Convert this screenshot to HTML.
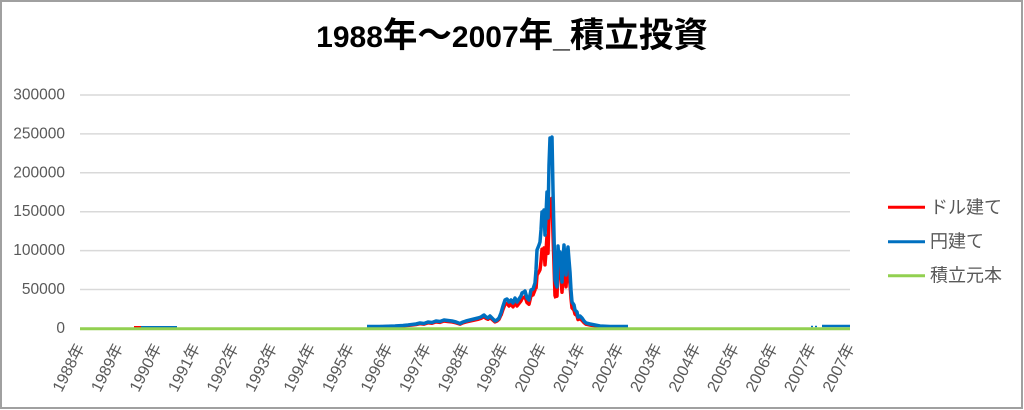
<!DOCTYPE html>
<html>
<head>
<meta charset="utf-8">
<style>
  html, body { margin:0; padding:0; background:#fff; }
  svg { display:block; }
  text { font-family: "Liberation Sans", "Noto Sans CJK JP", sans-serif; }
</style>
</head>
<body>
<svg width="1024" height="410" viewBox="0 0 1024 410" xmlns="http://www.w3.org/2000/svg">
  <rect x="0" y="0" width="1024" height="410" fill="#fff"/>
  <rect x="1" y="1" width="1021" height="407" fill="none" stroke="#a0a0a0" stroke-width="2"/>

  <!-- Title -->
  <text x="512" y="47" text-anchor="middle" font-weight="bold" font-size="30" fill="#000">1988<tspan font-size="34.5">年～</tspan>2007<tspan font-size="34.5">年</tspan>_<tspan font-size="34.5">積立投資</tspan></text>

  <!-- Gridlines -->
  <g stroke="#d9d9d9" stroke-width="1.5">
    <line x1="80" y1="95" x2="850" y2="95"/>
    <line x1="80" y1="133.9" x2="850" y2="133.9"/>
    <line x1="80" y1="172.8" x2="850" y2="172.8"/>
    <line x1="80" y1="211.7" x2="850" y2="211.7"/>
    <line x1="80" y1="250.6" x2="850" y2="250.6"/>
    <line x1="80" y1="289.5" x2="850" y2="289.5"/>
    <line x1="80" y1="328.5" x2="850" y2="328.5"/>
  </g>

  <!-- Y labels -->
  <g font-size="15.5" fill="#595959" text-anchor="end" dominant-baseline="central">
    <text x="65" y="95">300000</text>
    <text x="65" y="133.9">250000</text>
    <text x="65" y="172.8">200000</text>
    <text x="65" y="211.7">150000</text>
    <text x="65" y="250.6">100000</text>
    <text x="65" y="289.5">50000</text>
    <text x="65" y="328.5">0</text>
  </g>

  <!-- X labels -->
  <g font-size="16" fill="#595959" text-anchor="end" dominant-baseline="central">
    <text transform="translate(81,345) rotate(-63)">1988年</text>
    <text transform="translate(119.5,345) rotate(-63)">1989年</text>
    <text transform="translate(158,345) rotate(-63)">1990年</text>
    <text transform="translate(196.5,345) rotate(-63)">1991年</text>
    <text transform="translate(235,345) rotate(-63)">1992年</text>
    <text transform="translate(273.5,345) rotate(-63)">1993年</text>
    <text transform="translate(312,345) rotate(-63)">1994年</text>
    <text transform="translate(350.5,345) rotate(-63)">1995年</text>
    <text transform="translate(389,345) rotate(-63)">1996年</text>
    <text transform="translate(427.5,345) rotate(-63)">1997年</text>
    <text transform="translate(466,345) rotate(-63)">1998年</text>
    <text transform="translate(504.5,345) rotate(-63)">1999年</text>
    <text transform="translate(543,345) rotate(-63)">2000年</text>
    <text transform="translate(581.5,345) rotate(-63)">2001年</text>
    <text transform="translate(620,345) rotate(-63)">2002年</text>
    <text transform="translate(658.5,345) rotate(-63)">2003年</text>
    <text transform="translate(697,345) rotate(-63)">2004年</text>
    <text transform="translate(735.5,345) rotate(-63)">2005年</text>
    <text transform="translate(774,345) rotate(-63)">2006年</text>
    <text transform="translate(812.5,345) rotate(-63)">2007年</text>
    <text transform="translate(851,345) rotate(-63)">2007年</text>
  </g>

  <!-- Red series (ドル建て) -->
  <g fill="none" stroke="#ff0000" stroke-width="3.5" stroke-linejoin="round">
    <polyline points="134,327 142,327" stroke-width="2"/>
    <polyline vector-effect="non-scaling-stroke" transform="translate(0,328.5) scale(1,0.88) translate(0,-328.5)"
      points="367,326.5 380,326.5 395,326 403,325.5 408,325 412,324.5 416,324 420,323 424,323.5 428,322 432,322.5 436,321 440,321.5 444,320 448,320.5 452,321 456,322 460,323.5 463,322 466,321 470,320 474,319 478,318 481,317 484,315 486,317 488,318 490,316 492,318 495,321 497,320 499,318 501,313"/>
    <polyline vector-effect="non-scaling-stroke" transform="translate(0,328.5) scale(1,0.85) translate(0,-328.5)"
      points="501,313 503,306 505,300 507,299 509,302 511,300 513,303 515,298 517,302 519,299 521,296 522,293 524,292 525,291 527,298 529,300 531,290 533,289 535,283 536,270"/>
    <polyline vector-effect="non-scaling-stroke" transform="translate(0,328.5) scale(1,0.68) translate(0,-328.5)"
      points="536,270 537,250 539,245 540,242 541,230 542,212 543,215 544,210 545,235 546,215 547,192 548,218 549,165 550,138 551,140 552,137 553,190 554,235 555,280 556,284"/>
    <polyline vector-effect="non-scaling-stroke" transform="translate(0,328.5) scale(1,0.78) translate(0,-328.5)"
      points="556,284 557,287 558,246 559,260 560,252 561,265 562,282 563,260 564,245 565,262 566,275 567,255 568,247 569,260 570,272 571,290 572,302 574,305 575,310 577,312 578,317 580,316 582,318 584,321 586,323 590,324 595,325 600,326 610,326.5 628,326.5"/>
  </g>

  <!-- Blue series (円建て) -->
  <g fill="none" stroke="#0070c0" stroke-width="3.5" stroke-linejoin="round">
    <polyline points="141,327 177,327" stroke-width="2"/>
    <polyline points="367,326.5 380,326.5 395,326 403,325.5 408,325 412,324.5 416,324 420,323 424,323.5 428,322 432,322.5 436,321 440,321.5 444,320 448,320.5 452,321 456,322 460,323.5 463,322 466,321 470,320 474,319 478,318 481,317 484,315 486,317 488,318 490,316 492,318 495,321 497,320 499,318 501,313 503,306 505,300 507,299 509,302 511,300 513,303 515,298 517,302 519,299 521,296 522,293 524,292 525,291 527,298 529,300 531,290 533,289 535,283 536,270 537,250 539,245 540,242 541,230 542,212 543,215 544,210 545,235 546,215 547,192 548,218 549,165 550,138 551,140 552,137 553,190 554,235 555,280 556,284 557,287 558,246 559,260 560,252 561,265 562,282 563,260 564,245 565,262 566,275 567,255 568,247 569,260 570,272 571,290 572,302 574,305 575,310 577,312 578,317 580,316 582,318 584,321 586,323 590,324 595,325 600,326 610,326.5 628,326.5"/>
    <polyline points="822,326 850,326" stroke-width="2.5"/>
    <line x1="811" y1="326.5" x2="813" y2="326.5" stroke-width="1.5"/>
    <line x1="815" y1="326.5" x2="817" y2="326.5" stroke-width="1.5"/>
  </g>

  <!-- Green series (積立元本) -->
  <line x1="80" y1="328.7" x2="850" y2="328.7" stroke="#92d050" stroke-width="3"/>

  <!-- Legend -->
  <g stroke-width="3">
    <line x1="888" y1="207.3" x2="925" y2="207.3" stroke="#ff0000"/>
    <line x1="888" y1="241.7" x2="925" y2="241.7" stroke="#0070c0"/>
    <line x1="888" y1="275.7" x2="925" y2="275.7" stroke="#92d050"/>
  </g>
  <g font-size="18" fill="#595959" dominant-baseline="central">
    <text x="930" y="207.3">ドル建て</text>
    <text x="930" y="241.7">円建て</text>
    <text x="930" y="275.7">積立元本</text>
  </g>
</svg>
</body>
</html>
